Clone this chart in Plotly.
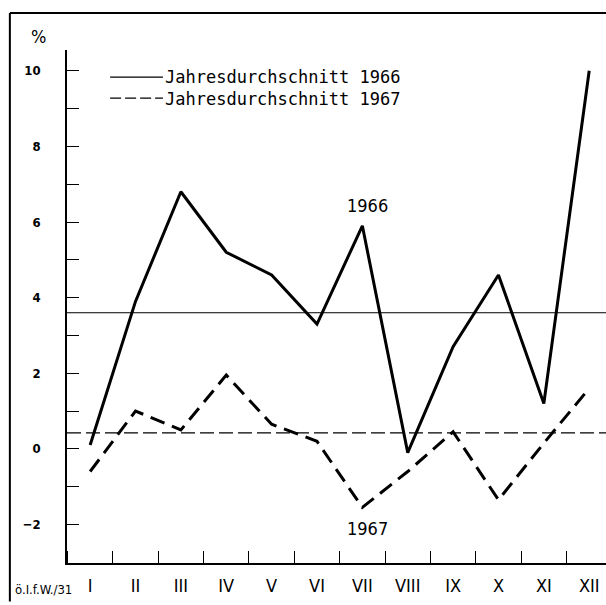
import plotly.graph_objects as go

# Monthly change in %
months = ["I", "II", "III", "IV", "V", "VI", "VII", "VIII", "IX", "X", "XI", "XII"]
values_1966 = [0.1, 3.9, 6.8, 5.2, 4.6, 3.3, 5.9, -0.1, 2.7, 4.6, 1.2, 10.0]
values_1967 = [-0.6, 1.0, 0.5, 1.95, 0.65, 0.2, -1.55, -0.6, 0.45, -1.35, 0.15, 1.6]
avg_1966 = 3.6
avg_1967 = 0.42
legend_labels = ["Jahresdurchschnitt 1966", "Jahresdurchschnitt 1967"]

FONT = "DejaVu Sans Condensed, Liberation Sans Narrow, DejaVu Sans, sans-serif"
LEGEND_FONT = "DejaVu Sans Mono, Liberation Mono, monospace"
x_idx = list(range(len(months)))

fig = go.Figure()

fig.add_trace(
    go.Scatter(
        x=x_idx,
        y=values_1966,
        mode="lines",
        line=dict(color="black", width=3),
        showlegend=False,
    )
)
fig.add_trace(
    go.Scatter(
        x=x_idx,
        y=values_1967,
        mode="lines",
        line=dict(color="black", width=3, dash="15px,8px"),
        showlegend=False,
    )
)

# annual averages
fig.add_hline(y=avg_1966, line=dict(color="black", width=1))
fig.add_hline(y=avg_1967, line=dict(color="black", width=1.2, dash="14px,5px"))

# series labels
fig.add_annotation(x=6, y=values_1966[6], text="1966", showarrow=False,
                   xshift=5, yshift=20, font=dict(size=18, family=FONT))
fig.add_annotation(x=6, y=values_1967[6], text="1967", showarrow=False,
                   xshift=5, yshift=-21, font=dict(size=18, family=FONT))

# hand-drawn legend
fig.add_shape(type="line", xref="paper", yref="paper", x0=0.08, x1=0.178,
              y0=0.947, y1=0.947, line=dict(color="black", width=1.3))
fig.add_shape(type="line", xref="paper", yref="paper", x0=0.08, x1=0.178,
              y0=0.906, y1=0.906, line=dict(color="black", width=1.3, dash="11px,4px"))
fig.add_annotation(x=0.178, y=0.9265, xref="paper", yref="paper",
                   text="<br>".join(legend_labels), showarrow=False,
                   xanchor="left", yanchor="middle", align="left",
                   font=dict(size=17, family=LEGEND_FONT))

# "%" unit and source note
fig.add_annotation(x=-0.07, y=1.05, xref="paper", yref="paper", text="%",
                   showarrow=False, font=dict(size=18, family=FONT))
fig.add_annotation(x=-0.1, y=-0.07, xref="paper", yref="paper", text="ö.I.f.W./31",
                   showarrow=False, xanchor="left", font=dict(size=13, family=FONT))

# outer frame (top and left)
fig.add_shape(type="line", xref="paper", yref="paper", x0=-0.106, x1=1.0,
              y0=1.072, y1=1.072, line=dict(color="black", width=2))
fig.add_shape(type="line", xref="paper", yref="paper", x0=-0.106, x1=-0.106,
              y0=-0.075, y1=1.072, line=dict(color="black", width=2))

fig.update_layout(
    width=606,
    height=605,
    plot_bgcolor="white",
    paper_bgcolor="white",
    margin=dict(l=67, r=0, t=50, b=42),
    font=dict(family=FONT, color="black"),
    showlegend=False,
    xaxis=dict(
        range=[-0.51, 11.37],
        tickvals=x_idx,
        ticktext=months,
        ticks="",
        showgrid=False,
        zeroline=False,
        showline=True,
        linecolor="black",
        linewidth=1.5,
        tickfont=dict(size=18, family=FONT),
        ticklabelstandoff=6,
        minor=dict(ticks="inside", ticklen=12, tick0=0.5, dtick=1,
                   tickcolor="black", tickwidth=1, showgrid=False),
    ),
    yaxis=dict(
        range=[-3.02, 10.55],
        tickvals=[-2, 0, 2, 4, 6, 8, 10],
        ticks="inside",
        ticklen=12,
        tickcolor="black",
        showgrid=False,
        zeroline=False,
        showline=True,
        linecolor="black",
        linewidth=1.5,
        tickfont=dict(size=13, family=FONT, weight="bold"),
        ticklabelstandoff=22,
        minor=dict(ticks="inside", ticklen=12, dtick=1, tick0=0,
                   tickcolor="black", tickwidth=1, showgrid=False),
    ),
)

fig.write_html("out.html", config={"displayModeBar": False},
               post_script="document.body.style.margin='0';")
